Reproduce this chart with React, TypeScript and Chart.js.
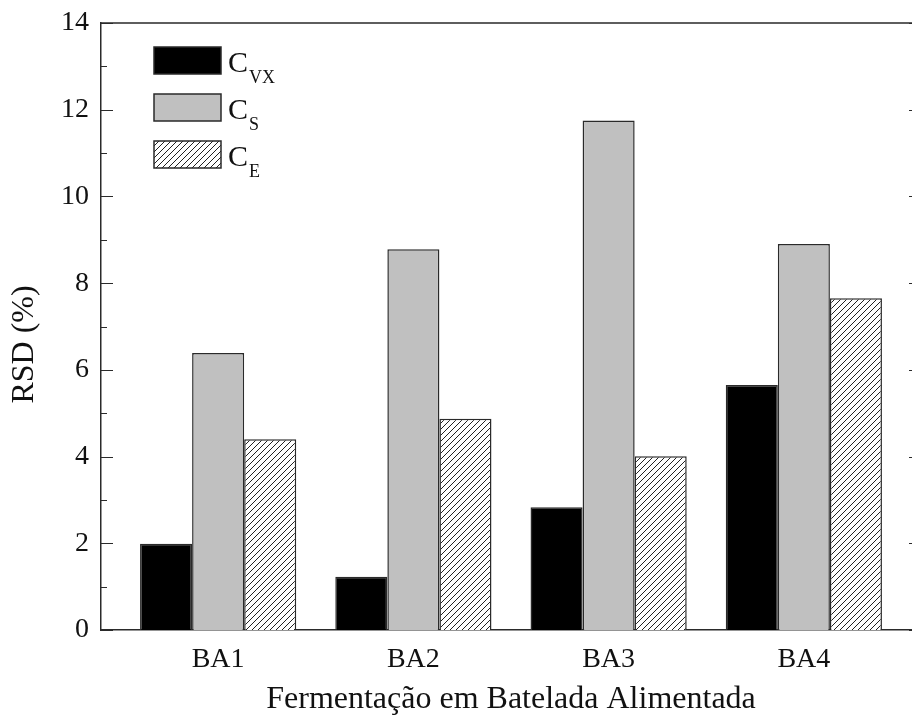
import { useEffect, useRef } from 'react';
import { Chart, registerables } from 'chart.js';

Chart.register(...registerables);

// Fed-batch runs and relative standard deviation (%) of each measured variable
const categories = ['BA1', 'BA2', 'BA3', 'BA4'];
const rsdCvx = [1.99, 1.23, 2.83, 5.65];
const rsdCs = [6.39, 8.78, 11.75, 8.9];
const rsdCe = [4.4, 4.87, 4.01, 7.65];
const seriesLabels = ['CVX', 'CS', 'CE'];
const seriesSubscripts = ['VX', 'S', 'E'];
const yMin = 0;
const yMax = 14;
const yStep = 2;
const yTitle = 'RSD (%)';
const xTitle = 'Fermentação em Batelada Alimentada';

const SERIF = '"Liberation Serif", "Times New Roman", serif';
const INK = '#111';
const LINE = '#2a2a2a';

function makeHatch(): CanvasPattern | string {
  const size = 6;
  const c = document.createElement('canvas');
  c.width = size;
  c.height = size;
  const g = c.getContext('2d');
  if (!g) return '#fff';
  g.fillStyle = '#fff';
  g.fillRect(0, 0, size, size);
  g.strokeStyle = '#222';
  g.lineWidth = 1;
  g.beginPath();
  g.moveTo(0, size);
  g.lineTo(size, 0);
  g.moveTo(-1, 1);
  g.lineTo(1, -1);
  g.moveTo(size - 1, size + 1);
  g.lineTo(size + 1, size - 1);
  g.stroke();
  return g.createPattern(c, 'repeat') ?? '#fff';
}

// Closed frame on top/right plus inward major and minor ticks on both vertical sides
const framePlugin = {
  id: 'frame',
  afterDatasetsDraw(chart: any) {
    const { ctx, chartArea: a, scales } = chart;
    const y = scales.y;
    ctx.save();
    ctx.strokeStyle = LINE;
    ctx.lineWidth = 1.5;
    ctx.beginPath();
    ctx.moveTo(a.left, a.top);
    ctx.lineTo(a.right, a.top);
    ctx.lineTo(a.right, a.bottom);
    ctx.stroke();
    ctx.lineWidth = 1;
    for (let v = yMin; v <= yMax; v += 1) {
      const len = v % yStep === 0 ? 12 : 6;
      const py = Math.round(y.getPixelForValue(v)) + 0.5;
      ctx.beginPath();
      ctx.moveTo(a.left, py);
      ctx.lineTo(a.left + len, py);
      ctx.moveTo(a.right, py);
      ctx.lineTo(a.right - len, py);
      ctx.stroke();
    }
    ctx.restore();
  },
};

// Vertical axis title, set a little below the middle of the axis
const yTitlePlugin = {
  id: 'yTitle',
  afterDraw(chart: any) {
    const { ctx, chartArea: a } = chart;
    ctx.save();
    ctx.translate(25, (a.top + a.bottom) / 2 + 18);
    ctx.rotate(-Math.PI / 2);
    ctx.font = `32px ${SERIF}`;
    ctx.fillStyle = INK;
    ctx.textAlign = 'center';
    ctx.textBaseline = 'middle';
    ctx.fillText(yTitle, 0, 0);
    ctx.restore();
  },
};

// Legend with subscripted series names
const legendPlugin = {
  id: 'subLegend',
  afterDraw(chart: any) {
    const { ctx, chartArea: a } = chart;
    const boxX = a.left + 53;
    const boxW = 67;
    const boxH = 27;
    chart.data.datasets.forEach((ds: any, i: number) => {
      const top = a.top + 24 + i * 47;
      ctx.save();
      ctx.fillStyle = ds.backgroundColor;
      ctx.fillRect(boxX, top, boxW, boxH);
      ctx.strokeStyle = LINE;
      ctx.lineWidth = 1.5;
      ctx.strokeRect(boxX, top, boxW, boxH);
      ctx.fillStyle = INK;
      ctx.textBaseline = 'alphabetic';
      ctx.textAlign = 'left';
      ctx.font = `30px ${SERIF}`;
      const tx = boxX + boxW + 7;
      ctx.fillText('C', tx, top + 25);
      const w = ctx.measureText('C').width;
      ctx.font = `18px ${SERIF}`;
      ctx.fillText(seriesSubscripts[i], tx + w + 1, top + 36);
      ctx.restore();
    });
  },
};

export default function App() {
  const canvasRef = useRef<HTMLCanvasElement | null>(null);

  useEffect(() => {
    const canvas = canvasRef.current;
    if (!canvas) return;
    const hatch = makeHatch();
    const toPoints = (vals: number[]) => vals.map((v, i) => ({ x: i + 1, y: v }));
    const common = {
      borderColor: LINE,
      borderWidth: 1.5,
      categoryPercentage: 0.8,
      barPercentage: 1.0,
    };
    const chart = new Chart(canvas, {
      type: 'bar',
      data: {
        datasets: [
          { label: seriesLabels[0], data: toPoints(rsdCvx), backgroundColor: '#000000', ...common },
          { label: seriesLabels[1], data: toPoints(rsdCs), backgroundColor: '#c0c0c0', ...common },
          { label: seriesLabels[2], data: toPoints(rsdCe), backgroundColor: hatch as any, ...common },
        ],
      },
      options: {
        responsive: false,
        animation: false,
        layout: { padding: { top: 23, right: 4, left: 0, bottom: 0 } },
        plugins: {
          legend: { display: false },
          tooltip: { enabled: false },
        },
        scales: {
          x: {
            type: 'linear',
            offset: false,
            min: 0.4,
            max: 4.6,
            afterBuildTicks: (s: any) => {
              s.ticks = categories.map((_, i) => ({ value: i + 1 }));
            },
            afterFit: (s: any) => {
              s.height = 95;
              s.paddingLeft = 0;
              s.paddingRight = 0;
            },
            grid: { display: false, drawTicks: false },
            border: { display: true, color: LINE, width: 1.5 },
            ticks: {
              font: { family: SERIF, size: 28 },
              color: INK,
              padding: 13,
              maxRotation: 0,
              callback: (v: any) => categories[Math.round(Number(v)) - 1] ?? '',
            },
            title: {
              display: true,
              text: xTitle,
              font: { family: SERIF, size: 32 },
              color: INK,
              padding: { top: 0, bottom: 6 },
            },
          },
          y: {
            min: yMin,
            max: yMax,
            afterFit: (s: any) => {
              s.width = 101;
              s.paddingTop = 0;
              s.paddingBottom = 0;
            },
            grid: { display: false, drawTicks: false },
            border: { display: true, color: LINE, width: 1.5 },
            ticks: {
              stepSize: yStep,
              font: { family: SERIF, size: 28 },
              color: INK,
              padding: 12,
            },
          },
        },
      },
      plugins: [framePlugin, legendPlugin, yTitlePlugin],
    });
    return () => chart.destroy();
  }, []);

  return (
    <div
      style={{
        position: 'fixed',
        left: 0,
        top: 0,
        width: 912,
        height: 725,
        overflow: 'hidden',
        background: '#fff',
      }}
    >
      <canvas ref={canvasRef} width={925} height={725} style={{ display: 'block' }} />
    </div>
  );
}
